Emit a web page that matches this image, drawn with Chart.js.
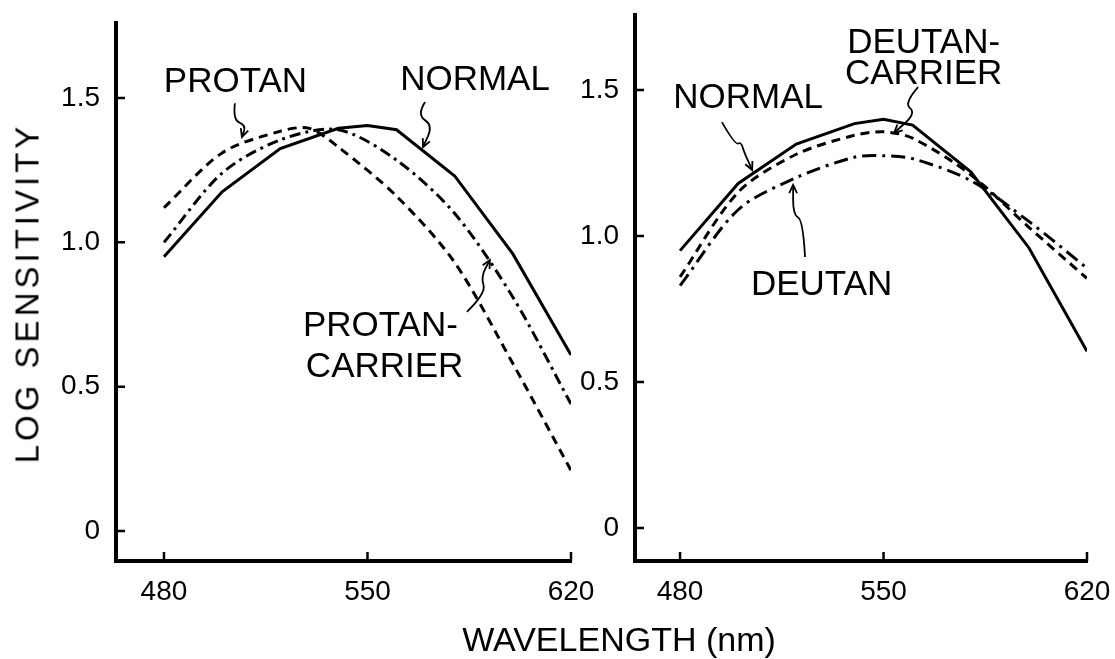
<!DOCTYPE html>
<html>
<head>
<meta charset="utf-8">
<title>Log sensitivity</title>
<script src="https://cdn.jsdelivr.net/npm/chart.js"></script>
<style>
  body { margin: 0; background: #fff; }
  #wrap { position: relative; width: 1115px; height: 659px; overflow: hidden; background: #fff; }
  canvas { position: absolute; top: 0; }
  #leftChart { left: 0; }
  #rightChart { left: 515px; }
  .axis-title { position: absolute; font-family: 'Liberation Sans', Arial, sans-serif; color: #000; white-space: nowrap; line-height: 1; }
  #ytitle { left: 27px; top: 293px; font-size: 33px; letter-spacing: 4px; transform: translate(-50%, -50%) rotate(-90deg); }
  #xtitle { left: 619px; top: 622px; font-size: 34px; transform: translateX(-50%); }
</style>
</head>
<body>
<div id="wrap">
  <canvas id="leftChart" width="600" height="659"></canvas>
  <canvas id="rightChart" width="600" height="659"></canvas>
  <div id="ytitle" class="axis-title">LOG SENSITIVITY</div>
  <div id="xtitle" class="axis-title">WAVELENGTH (nm)</div>
</div>
<script>
// wavelengths (nm)
const nmStd = [480, 500, 520, 540, 550, 560, 580, 600, 620];
const nmProtan = [480, 500, 520, 530, 540, 560, 580, 600, 620];
const nmProtanCarrier = [480, 500, 520, 540, 560, 580, 600, 620];

// left panel
const normalLeft = [0.95, 1.175, 1.325, 1.395, 1.405, 1.39, 1.23, 0.96, 0.61];
const protan = [1.12, 1.31, 1.385, 1.395, 1.33, 1.16, 0.93, 0.58, 0.21];
const protanCarrier = [1.0, 1.24, 1.355, 1.39, 1.285, 1.10, 0.81, 0.44];

// right panel
const normalRight = [0.95, 1.18, 1.315, 1.385, 1.40, 1.38, 1.22, 0.96, 0.605];
const deutanCarrier = [0.86, 1.15, 1.28, 1.345, 1.357, 1.335, 1.21, 1.03, 0.855];
const deutan = [0.83, 1.09, 1.20, 1.27, 1.275, 1.265, 1.19, 1.05, 0.89];

const xTicks = [480, 550, 620];
const yTicks = [0, 0.5, 1.0, 1.5];

const FONT = "'Liberation Sans', Arial, sans-serif";

const pts = (xs, ys) => xs.map((x, i) => ({ x: x, y: ys[i] }));

function line(data, dash, tension) {
  return {
    data: data,
    borderColor: '#000',
    borderWidth: 3,
    borderDash: dash,
    tension: tension,
    fill: false,
    pointRadius: 0,
    borderCapStyle: 'butt',
  };
}

// tick marks point into the plot
const inwardTicks = {
  id: 'inwardTicks',
  afterDraw(chart) {
    const { ctx, chartArea, scales } = chart;
    ctx.save();
    ctx.strokeStyle = '#000';
    ctx.lineWidth = 2.5;
    ctx.beginPath();
    scales.x.ticks.forEach(t => {
      const px = scales.x.getPixelForValue(t.value);
      ctx.moveTo(px, chartArea.bottom);
      ctx.lineTo(px, chartArea.bottom - 9);
    });
    scales.y.ticks.forEach(t => {
      const py = scales.y.getPixelForValue(t.value);
      ctx.moveTo(chartArea.left, py);
      ctx.lineTo(chartArea.left + 9, py);
    });
    ctx.stroke();
    ctx.restore();
  }
};

// curve labels with squiggly arrows
const notes = {
  id: 'notes',
  afterDatasetsDraw(chart, args, opts) {
    const { ctx, scales: { x, y } } = chart;
    ctx.save();
    ctx.fillStyle = '#000';
    ctx.strokeStyle = '#000';
    ctx.font = '35px ' + FONT;
    ctx.textBaseline = 'alphabetic';
    (opts.texts || []).forEach(t => {
      ctx.textAlign = t.align || 'center';
      ctx.fillText(t.text, x.getPixelForValue(t.at[0]), y.getPixelForValue(t.at[1]));
    });
    ctx.lineWidth = 1.8;
    (opts.arrows || []).forEach(a => {
      const p = a.map(q => [x.getPixelForValue(q[0]), y.getPixelForValue(q[1])]);
      ctx.beginPath();
      ctx.moveTo(p[0][0], p[0][1]);
      for (let i = 1; i < p.length - 1; i++) {
        const mx = (p[i][0] + p[i + 1][0]) / 2, my = (p[i][1] + p[i + 1][1]) / 2;
        ctx.quadraticCurveTo(p[i][0], p[i][1], mx, my);
      }
      const end = p[p.length - 1];
      ctx.lineTo(end[0], end[1]);
      ctx.stroke();
      const prev = p[p.length - 2];
      const ang = Math.atan2(end[1] - prev[1], end[0] - prev[0]);
      ctx.beginPath();
      ctx.moveTo(end[0] - 9 * Math.cos(ang - 0.45), end[1] - 9 * Math.sin(ang - 0.45));
      ctx.lineTo(end[0], end[1]);
      ctx.lineTo(end[0] - 9 * Math.cos(ang + 0.45), end[1] - 9 * Math.sin(ang + 0.45));
      ctx.stroke();
    });
    ctx.restore();
  }
};

const tickFont = { family: FONT, size: 28 };

// keep the plot box where the figure has it
function noPad(s) {
  s.paddingTop = 0;
  s.paddingBottom = 0;
  s.paddingLeft = 0;
  s.paddingRight = 0;
}

function makeChart(id, datasets, o) {
  return new Chart(document.getElementById(id), {
    type: 'line',
    data: { datasets: datasets },
    options: {
      responsive: false,
      animation: false,
      devicePixelRatio: 1,
      layout: { padding: { top: o.top, right: o.right, left: 0, bottom: 0 } },
      plugins: {
        legend: { display: false },
        tooltip: { enabled: false },
        notes: { texts: o.texts, arrows: o.arrows },
      },
      scales: {
        x: {
          type: 'linear',
          min: o.xMin,
          max: 620,
          afterBuildTicks: s => { s.ticks = xTicks.map(v => ({ value: v })); },
          afterFit: s => { s.height = 98; noPad(s); },
          grid: { drawOnChartArea: false, drawTicks: false, color: 'rgba(0,0,0,0)' },
          border: { display: true, color: '#000', width: 4 },
          ticks: { color: '#000', font: tickFont, padding: 14, maxRotation: 0, autoSkip: false,
                   callback: v => String(v) },
        },
        y: {
          type: 'linear',
          min: o.yMin,
          max: o.yMax,
          afterBuildTicks: s => { s.ticks = yTicks.map(v => ({ value: v })); },
          afterFit: s => { s.width = o.axisLeft; noPad(s); },
          grid: { drawOnChartArea: false, drawTicks: false, color: 'rgba(0,0,0,0)' },
          border: { display: true, color: '#000', width: 4 },
          ticks: { color: '#000', font: tickFont, padding: 16, autoSkip: false,
                   callback: v => (v === 0 ? '0' : v.toFixed(1)) },
        },
      },
    },
    plugins: [inwardTicks, notes],
  });
}

makeChart('leftChart', [
  line(pts(nmStd, normalLeft), [], 0),
  line(pts(nmProtan, protan), [9, 6], 0.3),
  line(pts(nmProtanCarrier, protanCarrier), [11, 5, 3, 5], 0.3),
], {
  top: 23, right: 29, axisLeft: 116, xMin: 463.5, yMin: -0.104, yMax: 1.76,
  texts: [
    { text: 'PROTAN', at: [504.6, 1.521] },
    { text: 'NORMAL', at: [587, 1.528] },
    { text: 'PROTAN-', at: [527.8, 0.675], align: 'left' },
    { text: 'CARRIER', at: [528.8, 0.533], align: 'left' },
  ],
  arrows: [
    [[504.4, 1.482], [503.7, 1.424], [508.2, 1.406], [506.8, 1.365]],
    [[569.8, 1.486], [567, 1.441], [572.5, 1.406], [569.1, 1.33]],
    [[584.2, 0.759], [590.8, 0.824], [589, 0.88], [592.1, 0.939]],
  ],
});

makeChart('rightChart', [
  line(pts(nmStd, normalRight), [], 0),
  line(pts(nmStd, deutanCarrier), [9, 6], 0.3),
  line(pts(nmStd, deutan), [14, 6, 3, 6], 0.3),
], {
  top: 15, right: 28, axisLeft: 120, xMin: 464.5, yMin: -0.113, yMax: 1.757,
  texts: [
    { text: 'NORMAL', at: [503.4, 1.438] },
    { text: 'DEUTAN-', at: [563.8, 1.627] },
    { text: 'CARRIER', at: [563.8, 1.522] },
    { text: 'DEUTAN', at: [528.7, 0.798] },
  ],
  arrows: [
    [[494.4, 1.39], [498.9, 1.312], [501, 1.322], [502, 1.288], [504.8, 1.226]],
    [[561.9, 1.51], [557, 1.455], [561.2, 1.421], [553.6, 1.353]],
    [[523, 0.928], [522.3, 1.055], [518.9, 1.072], [518.9, 1.175]],
  ],
});
</script>
</body>
</html>
